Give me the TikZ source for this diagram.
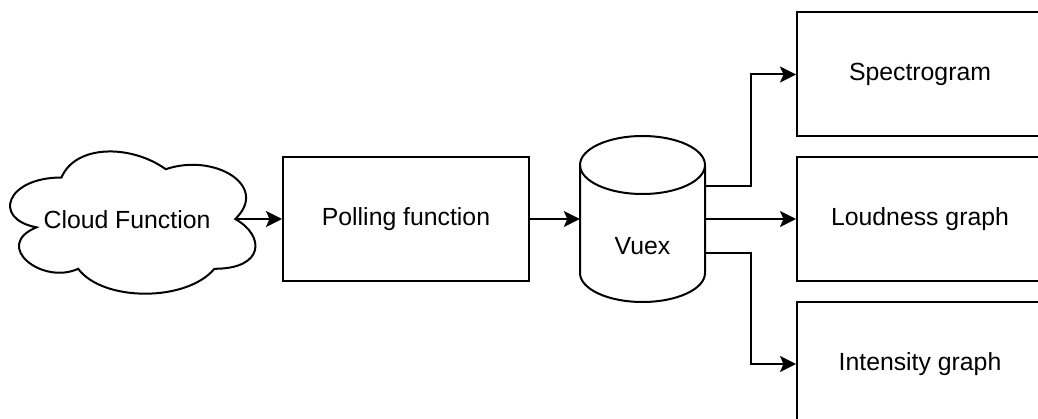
\documentclass[tikz,border=0pt]{standalone}
\usepackage{fontspec}
\setmainfont{Liberation Sans}
\usetikzlibrary{arrows.meta}
\tikzset{
  line/.style={line width=2pt, draw=black},
  box/.style={line, fill=white, rectangle, minimum width=246pt, minimum height=124pt,
              inner sep=0pt, font=\fontsize{24.8}{29}\selectfont},
  label/.style={inner sep=0pt, font=\fontsize{24.8}{29}\selectfont},
  arr/.style={line, -{Stealth[length=16pt, width=16pt, inset=3.5pt]}},
}
\begin{document}
\begin{tikzpicture}[x=1pt, y=-1pt]
\useasboundingbox (0,0) rectangle (1038,419);

% cloud outline
\draw[line, fill=white]
  (61.5,177.5) .. controls (5.9,177.5) and (-8,219) .. (36.48,227.3)
  .. controls (-8,245.56) and (42.04,285.4) .. (78.18,268.8)
  .. controls (103.2,302) and (186.6,302) .. (214.4,268.8)
  .. controls (265,268.8) and (265,235.6) .. (235.25,219)
  .. controls (270,185.8) and (214.4,152.6) .. (165.75,169.2)
  .. controls (131,144.3) and (75.4,144.3) .. (61.5,177.5) -- cycle;
\node[label] (cloudlbl) at (127,220) {Cloud Function};
\node[inner sep=0pt, minimum width=208pt, minimum height=20pt] (cloud) at (131,219) {};

% polling box
\node[box] (poll) at (406,219) {Polling function};

% Vuex store cylinder
\draw[line, fill=white]
  (580,165) -- (580,273)
  arc[start angle=180, end angle=360, x radius=62.5pt, y radius=29pt]
  -- (705,165)
  arc[start angle=0, end angle=180, x radius=62.5pt, y radius=29pt] -- cycle;
\draw[line] (580,165) arc[start angle=180, end angle=360, x radius=62.5pt, y radius=29pt];
\node[inner sep=0pt, minimum width=125pt, minimum height=166pt] (vuex) at (642.5,219) {};
\node[label] (vuexlbl) at (642.5,246) {Vuex};

% output views
\node[box] (spec)  at (920,74.5) {Spectrogram};
\node[box] (loud)  at (920,219)  {Loudness graph};
\node[box] (inten) at (920,364)  {Intensity graph};

% connectors
\draw[arr] (cloud.east) -- (poll.west);
\draw[arr] (poll.east) -- (vuex.west);
\draw[arr] ([yshift=33pt]vuex.east) -- ++(46,0) |- (spec.west);
\draw[arr] (vuex.east) -- (loud.west);
\draw[arr] ([yshift=-34pt]vuex.east) -- ++(46,0) |- (inten.west);
\end{tikzpicture}
\end{document}
